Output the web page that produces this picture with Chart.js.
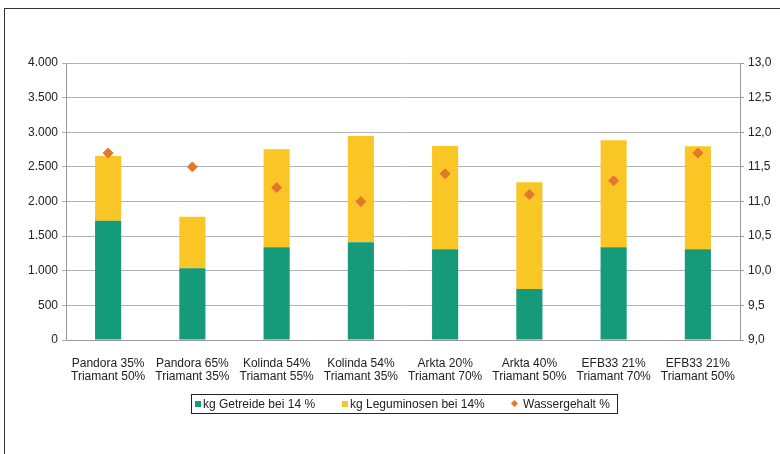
<!DOCTYPE html>
<html>
<head>
<meta charset="utf-8">
<script src="https://cdn.jsdelivr.net/npm/chart.js@4.4.1/dist/chart.umd.min.js"></script>
<style>
  html, body { margin: 0; padding: 0; background: #fff; overflow: hidden; }
  #frame { position: absolute; left: 4px; top: 8px; width: 800px; height: 500px; border: 1px solid #333; }
  #wrap { position: absolute; left: 0; top: 0; width: 780px; height: 454px; }
  #legend { position: absolute; left: 191px; top: 394px; width: 425px; height: 18px; border: 1px solid #222;
            font: 12px "Liberation Sans", Arial, sans-serif; color: #222; }
  #legend .item { position: absolute; top: 2px; white-space: nowrap; line-height: 14px; }
  #legend .mark { display: inline-block; width: 6px; height: 6px; margin-right: 2px; vertical-align: 1px; }
  #legend .mark.diamond { width: 5px; height: 5px; transform: rotate(45deg); margin: 0 6px 0 2px; vertical-align: 2px; }
</style>
</head>
<body>
<div id="frame"></div>
<div id="wrap"><canvas id="chart" width="780" height="454"></canvas></div>
<div id="legend"></div>
<script>
const labels = [
  ['Pandora 35%', 'Triamant 50%'],
  ['Pandora 65%', 'Triamant 35%'],
  ['Kolinda 54%', 'Triamant 55%'],
  ['Kolinda 54%', 'Triamant 35%'],
  ['Arkta 20%', 'Triamant 70%'],
  ['Arkta 40%', 'Triamant 50%'],
  ['EFB33 21%', 'Triamant 70%'],
  ['EFB33 21%', 'Triamant 50%']
];
const getreide = [1723, 1035, 1338, 1411, 1310, 736, 1338, 1310];
const leguminosen = [934, 745, 1416, 1535, 1491, 1541, 1545, 1487];
const wassergehalt = [11.7, 11.5, 11.2, 11.0, 11.4, 11.1, 11.3, 11.7];

const fontFamily = '"Liberation Sans", Arial, sans-serif';

const chart = new Chart(document.getElementById('chart'), {
  data: {
    labels: labels,
    datasets: [
      {
        type: 'line',
        label: 'Wassergehalt %',
        data: wassergehalt,
        yAxisID: 'y1',
        showLine: false,
        pointStyle: 'rectRot',
        pointRadius: 5,
        pointBackgroundColor: '#e2782a',
        pointBorderColor: '#e2782a',
        backgroundColor: '#e2782a',
        borderColor: '#e2782a',
        order: 0
      },
      {
        type: 'bar',
        label: 'kg Getreide bei 14 %',
        data: getreide,
        backgroundColor: '#159a7a',
        stack: 's',
        order: 1
      },
      {
        type: 'bar',
        label: 'kg Leguminosen bei 14%',
        data: leguminosen,
        backgroundColor: '#fac626',
        stack: 's',
        order: 1
      }
    ]
  },
  options: {
    responsive: false,
    animation: false,
    layout: { padding: { top: 63, left: 4, right: 4, bottom: 64 } },
    datasets: { bar: { categoryPercentage: 1, barPercentage: 0.31 } },
    plugins: {
      tooltip: { enabled: false },
      legend: { display: false }
    },
    scales: {
      x: {
        stacked: true,
        grid: { display: false },
        border: { color: '#999' },
        ticks: { color: '#222', font: { family: fontFamily, size: 12, lineHeight: 1.07 }, maxRotation: 0, autoSkip: false, padding: 9 },
        afterFit(scale) { scale.height = 50; }
      },
      y: {
        stacked: true,
        position: 'left',
        min: 0,
        max: 4000,
        ticks: {
          stepSize: 500,
          color: '#222',
          font: { family: fontFamily, size: 12 },
          padding: 4,
          callback: v => String(v).replace(/\B(?=(\d{3})+(?!\d))/g, '.')
        },
        grid: { color: '#b3b3b3', tickLength: 4 },
        border: { color: '#999' },
        afterFit(scale) { scale.width = 62; }
      },
      y1: {
        position: 'right',
        min: 9,
        max: 13,
        ticks: {
          stepSize: 0.5,
          color: '#222',
          font: { family: fontFamily, size: 12 },
          padding: 4,
          callback: v => v.toFixed(1).replace('.', ',')
        },
        grid: { drawOnChartArea: false, color: '#999', tickLength: 4 },
        border: { color: '#999' },
        afterFit(scale) { scale.width = 36; }
      }
    }
  }
});

// legend in a framed box, built from the chart's datasets
const legendOrder = [1, 2, 0];
const legendLeft = [3, 150, 318];
const legendEl = document.getElementById('legend');
legendOrder.forEach((idx, k) => {
  const ds = chart.data.datasets[idx];
  const item = document.createElement('span');
  item.className = 'item';
  item.style.left = legendLeft[k] + 'px';
  const mark = document.createElement('span');
  mark.className = 'mark' + (ds.type === 'line' ? ' diamond' : '');
  mark.style.background = ds.type === 'line' ? ds.pointBackgroundColor : ds.backgroundColor;
  item.appendChild(mark);
  item.appendChild(document.createTextNode(ds.label));
  legendEl.appendChild(item);
});
</script>
</body>
</html>
